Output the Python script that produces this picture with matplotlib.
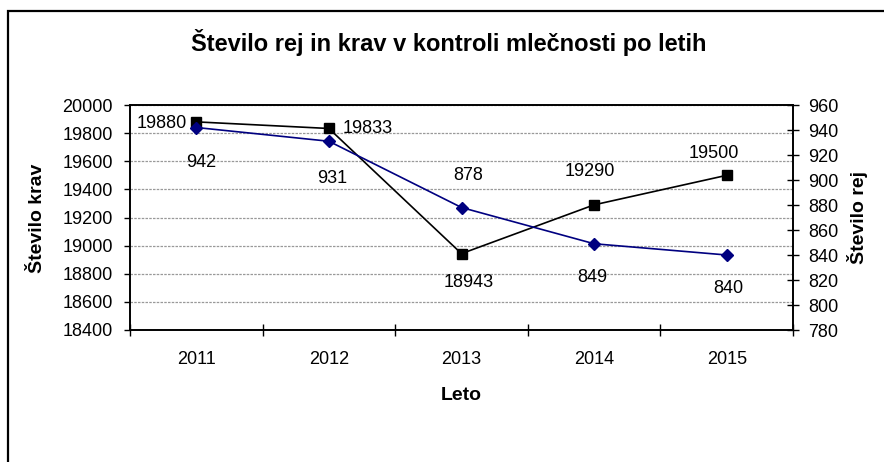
import matplotlib
matplotlib.use("Agg")
import matplotlib.pyplot as plt
from matplotlib.patches import Rectangle
from matplotlib.ticker import MultipleLocator

plt.rcParams["font.family"] = ["Liberation Sans", "DejaVu Sans"]

# podatki
leta = ["2011", "2012", "2013", "2014", "2015"]
krave = [19880, 19833, 18943, 19290, 19500]
reje = [942, 931, 878, 849, 840]

# odmiki oznak v pikslih (dx, dy, ha)
krave_off = [(-9, -2, "right"), (14, 0, "left"), (7, -29, "center"), (-4, 33, "center"), (-13, 22, "center")]
reje_off = [(5, -35, "center"), (3, -37, "center"), (7, 32, "center"), (-2, -34, "center"), (2, -33, "center")]

W, H = 884, 462
fig = plt.figure(figsize=(W / 100, H / 100), dpi=100)
fig.patch.set_facecolor("white")

# okvir grafa (desni in spodnji rob sta odrezana)
fig.add_artist(Rectangle((8 / W, -0.2), 1.5, (H - 11) / H + 0.2, fill=False,
                         lw=1.6, edgecolor="black", transform=fig.transFigure))

ax = fig.add_axes([130 / W, 1 - 330 / H, (793 - 130) / W, (330 - 105) / H])
x = list(range(len(leta)))

ax.plot(x, krave, color="black", lw=1.2, marker="s", ms=7, zorder=3)
ax.set_ylim(18400, 20000)
ax.set_xlim(-0.5, len(leta) - 0.5)
ax.yaxis.set_major_locator(MultipleLocator(200))
ax.grid(axis="y", color="#999999", ls=(0, (2, 1)), lw=0.9)
ax.set_axisbelow(True)

ax.set_xticks([i + 0.5 for i in range(-1, len(leta))])
ax.set_xticklabels([])
ax.set_xticks(x, minor=True)
ax.set_xticklabels(leta, minor=True, fontsize=13)
ax.tick_params(axis="x", which="major", direction="inout", length=8.6, width=1)
ax.tick_params(axis="x", which="minor", length=0, pad=15)
ax.tick_params(axis="y", direction="out", length=4.3, width=1, labelsize=13, pad=8)
for s in ax.spines.values():
    s.set_linewidth(1.2)

for xi, v, (dx, dy, ha) in zip(x, krave, krave_off):
    ax.annotate(str(v), (xi, v), xytext=(dx, dy), textcoords="offset pixels",
                ha=ha, va="center", fontsize=13)

ax2 = ax.twinx()
ax2.plot(x, reje, color="#000080", lw=1.2, marker="D", ms=6, zorder=3)
ax2.set_ylim(780, 960)
ax2.yaxis.set_major_locator(MultipleLocator(20))
ax2.tick_params(axis="y", direction="inout", length=8.6, width=1, labelsize=13, pad=6.5)
for s in ax2.spines.values():
    s.set_linewidth(1.2)

for xi, v, (dx, dy, ha) in zip(x, reje, reje_off):
    ax2.annotate(str(v), (xi, v), xytext=(dx, dy), textcoords="offset pixels",
                 ha=ha, va="center", fontsize=13)

fig.text(449 / W, 1 - 42 / H, "Število rej in krav v kontroli mlečnosti po letih",
         ha="center", va="center", fontsize=17, fontweight="bold")
fig.text(38 / W, 1 - 218 / H, "Število krav", rotation=90, ha="center", va="center",
         fontsize=14, fontweight="bold")
fig.text(858 / W, 1 - 218 / H, "Število rej", rotation=90, ha="center", va="center",
         fontsize=14, fontweight="bold")
fig.text(461 / W, 1 - 395 / H, "Leto", ha="center", va="center",
         fontsize=14, fontweight="bold")

fig.savefig("out.png", dpi=100)
